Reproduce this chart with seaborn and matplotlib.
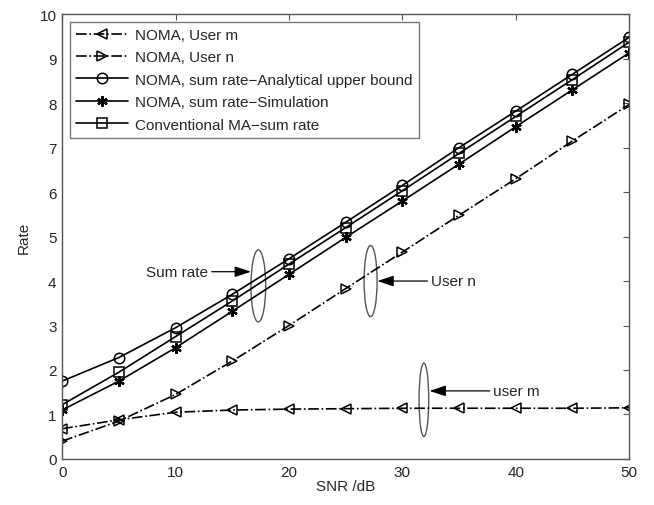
import matplotlib
matplotlib.use("Agg")
import matplotlib.pyplot as plt
from matplotlib.patches import Ellipse
import numpy as np
import pandas as pd
import seaborn as sns

sns.set_style("white")
plt.rcParams['font.family'] = ['Liberation Sans', 'DejaVu Sans']

snr = [0, 5, 10, 15, 20, 25, 30, 35, 40, 45, 50]
user_m = [0.68, 0.88, 1.05, 1.10, 1.12, 1.13, 1.14, 1.14, 1.14, 1.14, 1.15]
user_n = [0.40, 0.85, 1.45, 2.20, 3.00, 3.83, 4.65, 5.48, 6.30, 7.15, 7.97]
sum_upper = [1.75, 2.28, 2.95, 3.70, 4.50, 5.32, 6.15, 7.00, 7.82, 8.65, 9.48]
sum_sim = [1.10, 1.75, 2.50, 3.32, 4.15, 4.98, 5.80, 6.63, 7.47, 8.30, 9.13]
conv_ma = [1.22, 1.95, 2.75, 3.55, 4.38, 5.20, 6.03, 6.87, 7.70, 8.53, 9.37]

labels = ["NOMA, User m", "NOMA, User n",
          "NOMA, sum rate\u2212Analytical upper bound",
          "NOMA, sum rate\u2212Simulation",
          "Conventional MA\u2212sum rate"]
series = [user_m, user_n, sum_upper, sum_sim, conv_ma]
markers = ["<", ">", "o", (6, 2, 0), "s"]
styles = ["-.", "-.", "-", "-", "-"]

fig = plt.figure(figsize=(6.54, 5.06), dpi=100)
ax = fig.add_axes([0.095, 0.091, 0.867, 0.879])

for vals, lab, mk, ls in zip(series, labels, markers, styles):
    df = pd.DataFrame({"SNR": snr, "Rate": vals})
    sns.lineplot(data=df, x="SNR", y="Rate", ax=ax, color="black", lw=1.2,
                 linestyle=ls, marker=mk, markersize=7.5,
                 markerfacecolor="none", markeredgecolor="black",
                 markeredgewidth=1.1 if mk != (6, 2, 0) else 1.6, label=lab)

ax.set_xlim(0, 50)
ax.set_ylim(0, 10)
ax.set_xticks(range(0, 51, 10))
ax.set_yticks(range(0, 11))
ax.set_xlabel("SNR /dB", fontsize=11, labelpad=0)
ax.set_ylabel("Rate", fontsize=11, labelpad=6)
ax.tick_params(direction="in", length=4, labelsize=11, top=True, right=True,
               color="#555555", pad=4)
for s in ax.spines.values():
    s.set_color("#555555")
    s.set_linewidth(1.0)

leg = ax.legend(loc="upper left", fontsize=11, frameon=True, fancybox=False,
                edgecolor="#555555", handlelength=3.4, borderaxespad=0.5,
                labelspacing=0.55, handletextpad=0.5)
leg.get_frame().set_linewidth(1.0)

# ellipses and arrows
for cx, cy, w, h in [(17.3, 3.89, 1.3, 1.62), (27.2, 4.0, 1.15, 1.6), (31.9, 1.33, 0.85, 1.65)]:
    ax.add_patch(Ellipse((cx, cy), w, h, fill=False, edgecolor="#555555", lw=1.0))

arrow = dict(arrowstyle="-|>,head_length=0.9,head_width=0.3", color="black", lw=0.9,
             shrinkA=0, shrinkB=0)
ax.annotate("Sum rate", xy=(16.65, 4.21), xytext=(12.9, 4.21), ha="right", va="center",
            fontsize=11, arrowprops=arrow)
ax.annotate("User n", xy=(27.8, 4.0), xytext=(32.5, 4.0), ha="left", va="center",
            fontsize=11, arrowprops=arrow)
ax.annotate("user m", xy=(32.4, 1.53), xytext=(38.0, 1.53), ha="left", va="center",
            fontsize=11, arrowprops=arrow)

fig.savefig("out.png", dpi=100)
